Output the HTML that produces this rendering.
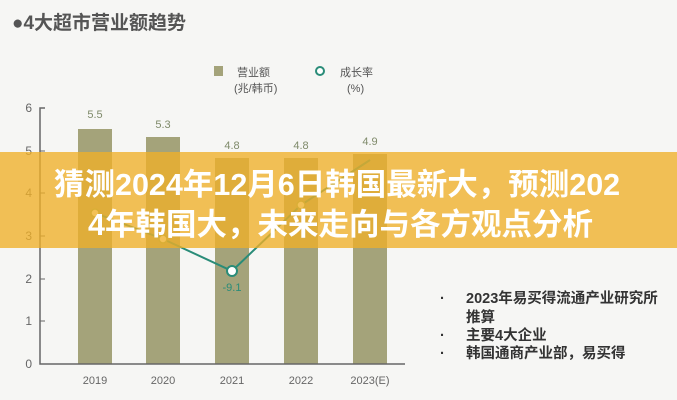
<!DOCTYPE html>
<html><head><meta charset="utf-8"><style>
body{margin:0;width:677px;height:400px;overflow:hidden;background:#f6f6f4;font-family:"Liberation Sans","Noto Sans CJK SC",sans-serif;position:relative}
.t{position:absolute;white-space:nowrap}
</style></head><body>
<div class="t" style="left:12px;top:8px;font-size:19px;font-weight:bold;color:#555">●4大超市营业额趋势</div>
<svg width="677" height="400" style="position:absolute;left:0;top:0" font-family="Liberation Sans, Noto Sans CJK SC, sans-serif">
<rect x="214" y="66" width="9" height="10" fill="#a4a37a"/>
<text x="237" y="76" font-size="11" fill="#555">营业额</text>
<text x="234" y="92" font-size="11" fill="#555">(兆/韩币)</text>
<circle cx="320" cy="71" r="4" fill="#fff" stroke="#2a8c78" stroke-width="2"/>
<text x="340" y="76" font-size="11" fill="#555">成长率</text>
<text x="347" y="92" font-size="11" fill="#555">(%)</text>
<g fill="#a4a37a">
<rect x="78" y="129" width="34" height="235"/>
<rect x="146" y="137" width="34" height="227"/>
<rect x="215" y="158" width="34" height="206"/>
<rect x="284" y="158" width="34" height="206"/>
<rect x="353" y="154" width="34" height="210"/>
</g>
<g font-size="11" fill="#7f8a6a" text-anchor="middle">
<text x="95" y="118">5.5</text><text x="163" y="128">5.3</text><text x="232" y="149">4.8</text><text x="301" y="149">4.8</text><text x="370" y="145">4.9</text>
</g>
<polyline points="95,213 163,239 232,271 301,205 370,160" fill="none" stroke="#2a8c78" stroke-width="2"/>
<g fill="#fff" stroke="#8ea86a" stroke-width="1.5"><circle cx="163" cy="239" r="4"/><circle cx="95" cy="213" r="4"/><circle cx="301" cy="205" r="4"/></g>
<circle cx="232" cy="271" r="5" fill="#fff" stroke="#2a8c78" stroke-width="2"/>
<text x="232" y="291" font-size="11" fill="#2a8c78" text-anchor="middle">-9.1</text>
<path d="M45,108 H40 V364 H405" fill="none" stroke="#666" stroke-width="1.5"/>
<g font-size="12" fill="#666" text-anchor="end">
<text x="32" y="112">6</text><text x="32" y="155">5</text><text x="32" y="197">4</text><text x="32" y="240">3</text><text x="32" y="283">2</text><text x="32" y="325">1</text><text x="32" y="368">0</text>
</g>
<g stroke="#666"><line x1="40" y1="151" x2="45" y2="151"/><line x1="40" y1="193" x2="45" y2="193"/><line x1="40" y1="236" x2="45" y2="236"/><line x1="40" y1="279" x2="45" y2="279"/><line x1="40" y1="321" x2="45" y2="321"/></g>
<g font-size="11" fill="#666" text-anchor="middle">
<text x="95" y="384">2019</text><text x="163" y="384">2020</text><text x="232" y="384">2021</text><text x="301" y="384">2022</text><text x="370" y="384">2023(E)</text>
</g>
<g font-size="14.5" font-weight="bold" fill="#333">
<text x="440" y="303">·</text><text x="466" y="303">2023年易买得流通产业研究所</text>
<text x="466" y="322">推算</text>
<text x="440" y="340">·</text><text x="466" y="340">主要4大企业</text>
<text x="440" y="358">·</text><text x="466" y="358">韩国通商产业部，易买得</text>
</g>
</svg>
<div style="position:absolute;left:0;top:152px;width:677px;height:96px;background:rgba(240,176,40,0.78)"></div>
<div class="t" style="left:54px;top:165px;font-size:30.5px;font-weight:bold;color:#fff;line-height:40px">猜测2024年12月6日韩国最新大，预测202<br><span style="margin-left:34px">4年韩国大，未来走向与各方观点分析</span></div>
</body></html>
